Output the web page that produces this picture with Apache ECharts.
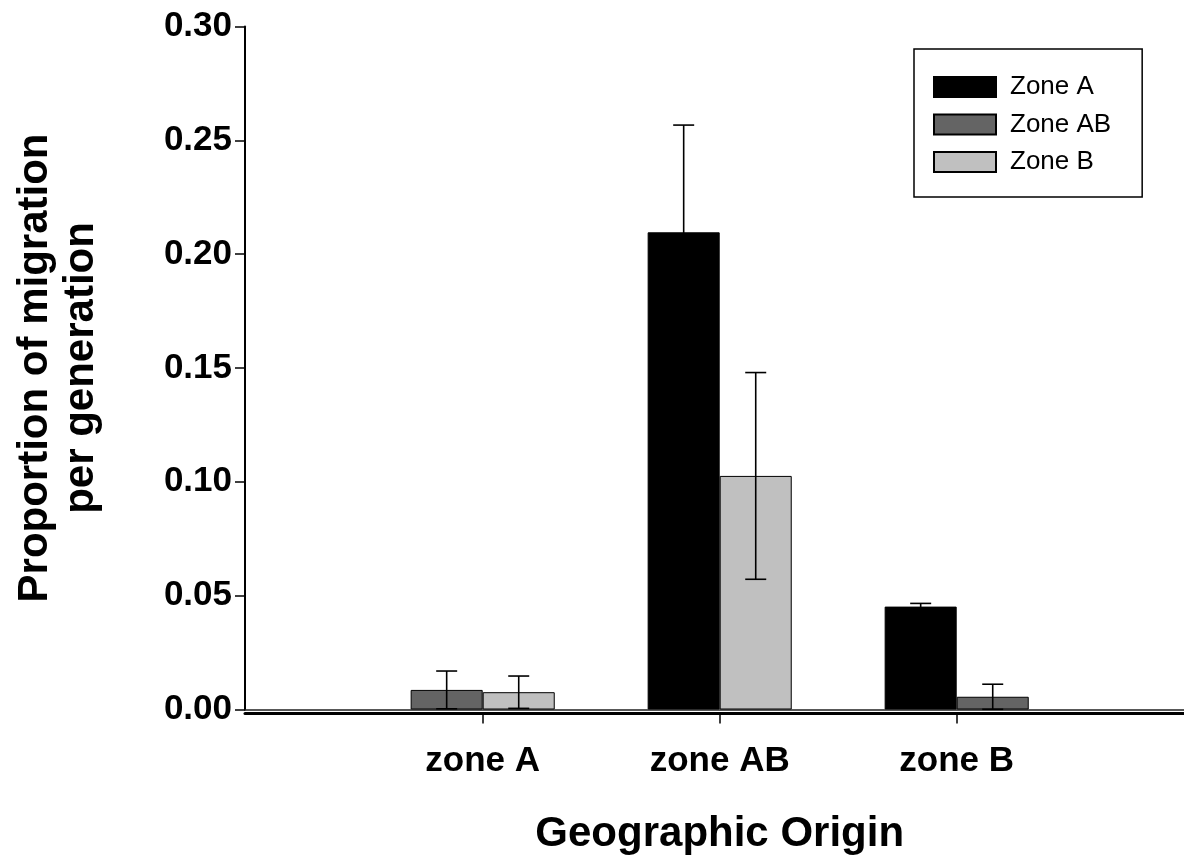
<!DOCTYPE html>
<html>
<head>
<meta charset="utf-8">
<title>Proportion of migration per generation</title>
<script src="https://cdn.jsdelivr.net/npm/echarts@6/dist/echarts.min.js"></script>
<style>
  html, body { margin: 0; padding: 0; background: #ffffff; }
  #chart { width: 1184px; height: 859px; }
</style>
</head>
<body>
<div id="chart"></div>
<script>
// Geographic origin of migrants (categories) and destination zones (series)
const categories = ['zone A', 'zone AB', 'zone B'];
const seriesNames = ['Zone A', 'Zone AB', 'Zone B'];

// Mean proportion of migration per generation (null = not estimated)
const zoneAValues  = [null, 0.2096, 0.0452];
const zoneABValues = [0.0086, null, 0.0056];
const zoneBValues  = [0.0076, 0.1026, null];

// Error (± half-width) for each mean
const zoneAErrors  = [null, 0.0471, 0.0014];
const zoneABErrors = [0.0083, null, 0.0055];
const zoneBErrors  = [0.0071, 0.0454, null];

// Y axis tick labels
const yTickLabels = ['0.00', '0.05', '0.10', '0.15', '0.20', '0.25', '0.30'];

const FONT = 'Liberation Sans, Arial, Helvetica, sans-serif';
const colors = { 'Zone A': '#000000', 'Zone AB': '#646464', 'Zone B': '#c0c0c0' };
const BAR_FRACTION = 0.304;

// Within every origin the present bars sit side by side: first one left, second right.
const valueSets = [zoneAValues, zoneABValues, zoneBValues];
const errorSets = [zoneAErrors, zoneABErrors, zoneBErrors];
const slotOf = valueSets.map(() => categories.map(() => null));
categories.forEach((c, ci) => {
  let slot = 0;
  valueSets.forEach((vals, si) => {
    if (vals[ci] != null) { slotOf[si][ci] = slot; slot++; }
  });
});

// One bar series per (zone, slot) pair; stacks 'L' and 'R' keep the two slots apart.
const barSeries = [];
const stackNames = ['L', 'R'];
[0, 1].forEach(slot => {
  valueSets.forEach((vals, si) => {
    const data = vals.map((v, ci) => (v != null && slotOf[si][ci] === slot) ? v : '-');
    if (data.every(d => d === '-')) return;
    barSeries.push({
      type: 'bar',
      name: seriesNames[si],
      xAxisIndex: 2,
      yAxisIndex: 1,
      stack: stackNames[slot],
      barWidth: (BAR_FRACTION * 100) + '%',
      barGap: '0%',
      data: data,
      itemStyle: { color: colors[seriesNames[si]], borderColor: '#000000', borderWidth: 1 },
      emphasis: { disabled: true },
      z: 2
    });
  });
});
// keep legend order: put series in the zone order for the first occurrence
barSeries.sort((a, b) => seriesNames.indexOf(a.name) - seriesNames.indexOf(b.name));

// Error bar rows: [categoryIndex, mean, error, side(-1 left / +1 right)]
const errorRows = [];
valueSets.forEach((vals, si) => {
  vals.forEach((v, ci) => {
    const e = errorSets[si][ci];
    if (v != null && e != null) {
      errorRows.push([ci, v, e, slotOf[si][ci] === 0 ? -1 : 1]);
    }
  });
});

const errorSeries = {
  type: 'custom',
  name: 'error',
  xAxisIndex: 2,
  yAxisIndex: 1,
  data: errorRows,
  encode: { x: 0, y: 1 },
  z: 5,
  silent: true,
  renderItem: function (params, api) {
    const ci = api.value(0);
    const mean = api.value(1);
    const err = api.value(2);
    const side = api.value(3);
    const band = api.size([1, 0])[0];
    const cx = api.coord([ci, mean])[0] + side * band * BAR_FRACTION / 2;
    const yTop = api.coord([ci, mean + err])[1];
    const yBot = api.coord([ci, Math.max(mean - err, 0)])[1];
    const cap = 10.5;
    const style = { stroke: '#000000', lineWidth: 1.6 };
    return {
      type: 'group',
      children: [
        { type: 'line', shape: { x1: cx, y1: yTop, x2: cx, y2: yBot }, style: style },
        { type: 'line', shape: { x1: cx - cap, y1: yTop, x2: cx + cap, y2: yTop }, style: style },
        { type: 'line', shape: { x1: cx - cap, y1: yBot, x2: cx + cap, y2: yBot }, style: style }
      ]
    };
  }
};

const chart = echarts.init(document.getElementById('chart'), null, { renderer: 'canvas' });

const option = {
  backgroundColor: '#ffffff',
  animation: false,
  grid: [
    { left: 245, right: 0, top: 26.5, bottom: 149.5, containLabel: false, outerBoundsMode: 'none' },
    { left: 364.2, right: 108.8, top: 26.5, bottom: 149.5, containLabel: false, outerBoundsMode: 'none' }
  ],
  legend: {
    data: seriesNames,
    orient: 'vertical',
    left: 914,
    top: 49,
    padding: [25, 31, 22, 19],
    itemWidth: 62,
    itemHeight: 20,
    itemGap: 11.5,
    icon: 'rect',
    borderColor: '#000000',
    borderWidth: 1.5,
    selectedMode: false,
    textStyle: { fontFamily: FONT, fontSize: 26, color: '#000000', padding: [0, 0, 0, 9] }
  },
  xAxis: [
    {
      // thin baseline on which the bars stand
      type: 'value', gridIndex: 0, min: 0, max: 1,
      axisLine: { show: true, onZero: false, lineStyle: { color: '#222222', width: 1.5 } },
      axisTick: { show: false }, axisLabel: { show: false }, splitLine: { show: false }
    },
    {
      // heavier x axis line just below
      type: 'value', gridIndex: 0, min: 0, max: 1, position: 'bottom', offset: 4,
      axisLine: { show: true, onZero: false, lineStyle: { color: '#000000', width: 3 } },
      axisTick: { show: false }, axisLabel: { show: false }, splitLine: { show: false }
    },
    {
      type: 'category', gridIndex: 1, data: categories, position: 'bottom', offset: 5,
      axisLine: { show: false, onZero: false },
      axisTick: { show: true, alignWithLabel: true, length: 9, lineStyle: { color: '#000000', width: 1.5 } },
      axisLabel: { show: true, margin: 29.5, fontFamily: FONT, fontSize: 35, fontWeight: 'bold', color: '#000000' },
      splitLine: { show: false },
      name: 'Geographic Origin',
      nameLocation: 'middle',
      nameGap: 98.5,
      nameTextStyle: { fontFamily: FONT, fontSize: 42, fontWeight: 'bold', color: '#000000' }
    }
  ],
  yAxis: [
    {
      type: 'value', gridIndex: 0, min: 0, max: 0.30, interval: 0.05,
      axisLine: { show: true, lineStyle: { color: '#000000', width: 2 } },
      axisTick: { show: true, inside: false, length: 10, lineStyle: { color: '#000000', width: 1.5 } },
      axisLabel: {
        margin: 13, fontFamily: FONT, fontSize: 35, fontWeight: 'bold', color: '#000000',
        formatter: function (v) { return yTickLabels[Math.round(v / 0.05)]; }
      },
      splitLine: { show: false },
      name: 'Proportion of migration\nper generation',
      nameLocation: 'middle',
      nameRotate: 90,
      nameGap: 141,
      nameTextStyle: { fontFamily: FONT, fontSize: 42, fontWeight: 'bold', color: '#000000', lineHeight: 46 }
    },
    {
      type: 'value', gridIndex: 1, min: 0, max: 0.30, show: false
    }
  ],
  series: barSeries.concat([errorSeries])
};

chart.setOption(option);
</script>
</body>
</html>
